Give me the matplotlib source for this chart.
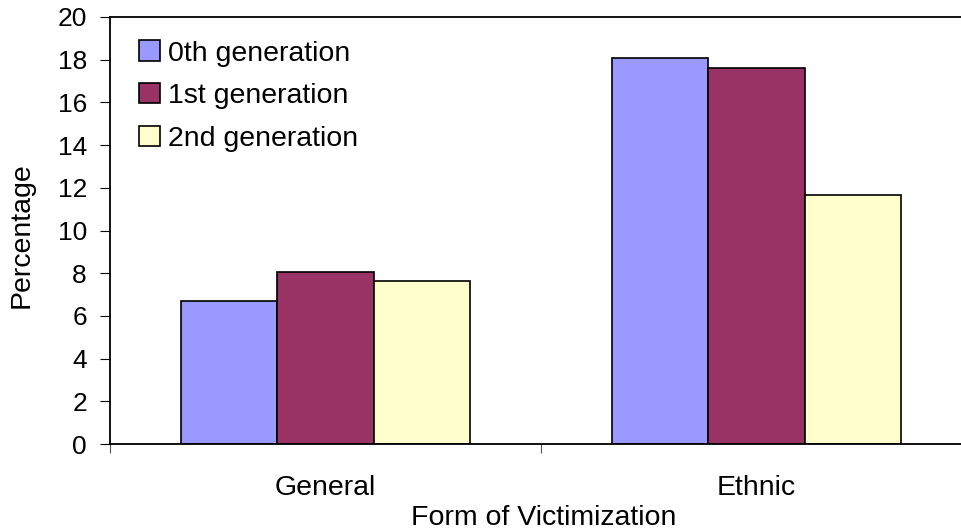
import matplotlib
matplotlib.use("Agg")
import matplotlib.pyplot as plt
import numpy as np

plt.rcParams['font.family'] = ['Liberation Sans', 'DejaVu Sans']

categories = ["General", "Ethnic"]
series_names = ["0th generation", "1st generation", "2nd generation"]
gen0 = [6.7, 18.1]
gen1 = [8.05, 17.6]
gen2 = [7.65, 11.65]
series = [gen0, gen1, gen2]
colors = ["#9999FF", "#993366", "#FFFFCC"]
yticks = [0, 2, 4, 6, 8, 10, 12, 14, 16, 18, 20]

W, H = 962, 530
fig = plt.figure(figsize=(W / 100, H / 100), dpi=100)
ax = fig.add_axes([110 / W, 1 - 444 / H, 862 / W, 427 / H])

x = np.arange(len(categories))
bw = 0.223
for i, (vals, c, name) in enumerate(zip(series, colors, series_names)):
    ax.bar(x + (i - 1) * bw, vals, width=bw, color=c, edgecolor='black',
           linewidth=1.2, label=name, zorder=2)

ax.set_xlim(-0.5, 1.5)
ax.set_ylim(0, 20)
ax.set_yticks(yticks)
ax.set_yticklabels([str(t) for t in yticks], fontsize=19)
ax.tick_params(axis='y', direction='out', length=7.2, width=0.8, pad=9.4)

# major x ticks at category boundaries (no labels), labels at centers
ax.set_xticks([-0.5, 0.5, 1.5])
ax.set_xticklabels(['', '', ''])
ax.set_xticks(x, minor=True)
ax.set_xticklabels(categories, minor=True, fontsize=20.5)
ax.tick_params(axis='x', which='major', direction='out', length=6.5, width=0.8,
               color='#555555')
ax.tick_params(axis='x', which='minor', length=0, pad=22)

for s in ax.spines.values():
    s.set_linewidth(1.3)
    s.set_color('black')

fig.text(22 / W, 1 - 235 / H, "Percentage", rotation=90, fontsize=20.5,
         ha='center', va='center')
fig.text(544 / W, 1 - 518 / H, "Form of Victimization", fontsize=20.5,
         ha='center', va='center')

leg = ax.legend(loc='upper left', bbox_to_anchor=(0.034, 0.945), frameon=False,
                fontsize=20.5, handlelength=0.72, handleheight=0.72,
                handletextpad=0.3, labelspacing=0.58, borderpad=0,
                borderaxespad=0)

fig.savefig("out.png", dpi=100)
